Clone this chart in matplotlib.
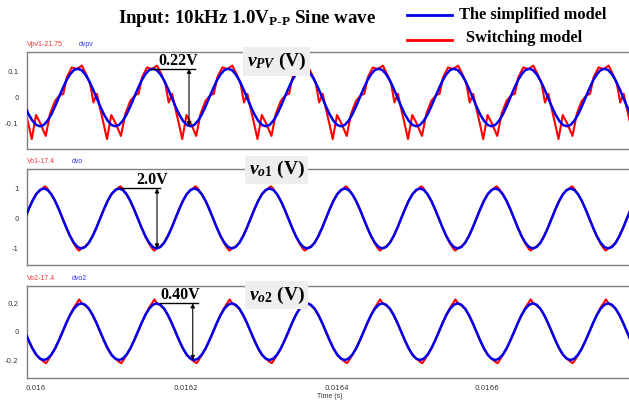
import numpy as np
import matplotlib.pyplot as plt
from matplotlib.lines import Line2D

plt.rcParams["mathtext.fontset"] = "custom"
plt.rcParams["mathtext.rm"] = "Liberation Serif:bold"
plt.rcParams["mathtext.it"] = "Liberation Serif:italic:bold"
plt.rcParams["mathtext.bf"] = "Liberation Serif:bold"

# one period of each trace, time in microseconds after T_START
PERIOD_US = 100.0
T_START = 0.016006
PERIODS = range(-1, 9)

SMOOTH_T = [0, 5, 10, 15, 20, 25, 30, 35, 40, 45, 50, 55, 60, 65, 70, 75, 80, 85, 90, 95]

VPV_SIMPLE = [-0.110, -0.105, -0.089, -0.065, -0.034, 0.000, 0.034, 0.065, 0.089, 0.105,
              0.110, 0.105, 0.089, 0.065, 0.034, 0.000, -0.034, -0.065, -0.089, -0.105]
VPV_SWITCH_T = [0, 7.6, 13.3, 20, 26.7, 31, 35.6, 42.3, 49, 55.6, 62.3, 66.7, 71, 75.6, 80, 84.5, 89, 94.7]
VPV_SWITCH = [-0.096, -0.147, -0.063, -0.013, 0.010, 0.014, 0.077, 0.115, 0.109, 0.122,
              0.083, 0.051, -0.019, 0.014, -0.044, -0.100, -0.159, -0.067]

VO1_SIMPLE = [0.951, 1.000, 0.951, 0.809, 0.588, 0.309, 0.000, -0.309, -0.588, -0.809,
              -0.951, -1.000, -0.951, -0.809, -0.588, -0.309, 0.000, 0.309, 0.588, 0.809]
VO1_SWITCH_T = [0, 5, 7, 10, 15, 20, 25, 30, 35, 40, 45, 50, 52, 55, 60, 65, 70, 75, 80, 85, 90, 95]
VO1_SWITCH = [0.93, 1.04, 1.07, 0.99, 0.80, 0.58, 0.30, 0.00, -0.31, -0.60, -0.84, -1.03, -1.07,
              -0.99, -0.93, -0.80, -0.57, -0.30, 0.02, 0.32, 0.60, 0.82]

VO2_SIMPLE = [-0.190, -0.200, -0.190, -0.162, -0.118, -0.062, 0.000, 0.062, 0.118, 0.162,
              0.190, 0.200, 0.190, 0.162, 0.118, 0.062, 0.000, -0.062, -0.118, -0.162]
VO2_SWITCH_T = [0, 5, 8, 10, 15, 20, 25, 30, 35, 40, 45, 50, 52, 55, 60, 65, 70, 75, 80, 85, 90, 95]
VO2_SWITCH = [-0.190, -0.212, -0.222, -0.207, -0.165, -0.120, -0.064, -0.005, 0.060, 0.120, 0.170,
              0.210, 0.228, 0.203, 0.185, 0.160, 0.115, 0.060, -0.002, -0.065, -0.120, -0.165]

XTICKS = [0.016, 0.0162, 0.0164, 0.0166]
XTICK_LABELS = ["0.016", "0.0162", "0.0164", "0.0166"]
XLIM = (0.0159887, 0.0167887)

PANELS = [
    dict(sw_t=VPV_SWITCH_T, sw=VPV_SWITCH, simple=VPV_SIMPLE,
         head=("Vpv1-21.75", "dvpv"), label=r"$v_{PV}$ (V)",
         ylim=(-0.197, 0.174), yticks=[-0.1, 0, 0.1], yticklabels=["-0.1", "0", "0.1"],
         rect=(0.0429, 0.6284, 0.9571, 0.2419), box_y=0.902,
         amp="0.22V", arrow_x=0.016204, line_x=(0.016152, 0.016212), text_x=0.016190),
    dict(sw_t=VO1_SWITCH_T, sw=VO1_SWITCH, simple=VO1_SIMPLE,
         head=("Vo1-17.4", "dvo"), label=r"$v_{\mathit{o1}}$ (V)",
         ylim=(-1.55, 1.64), yticks=[-1, 0, 1], yticklabels=["-1", "0", "1"],
         rect=(0.0429, 0.3392, 0.9571, 0.2387), box_y=0.993,
         amp="2.0V", arrow_x=0.0161615, line_x=(0.0161123, 0.0161654), text_x=0.016155),
    dict(sw_t=VO2_SWITCH_T, sw=VO2_SWITCH, simple=VO2_SIMPLE,
         head=("Vo2-17.4", "dvo2"), label=r"$v_{\mathit{o2}}$ (V)",
         ylim=(-0.3245, 0.3245), yticks=[-0.2, 0, 0.2], yticklabels=["-0.2", "0", "0.2"],
         rect=(0.0429, 0.0581, 0.9571, 0.2294), box_y=0.899,
         amp="0.40V", arrow_x=0.016209, line_x=(0.016165, 0.016216), text_x=0.016192),
]


def tile(tp, vals):
    tp = np.asarray(tp, dtype=float)
    t = np.concatenate([T_START + (k * PERIOD_US + tp) * 1e-6 for k in PERIODS])
    v = np.tile(np.asarray(vals, dtype=float), len(PERIODS))
    return t, v


fig = plt.figure(figsize=(6.29, 4.01), dpi=100)
sans = "Liberation Sans"
serif = "Liberation Serif"

for i, p in enumerate(PANELS):
    ax = fig.add_axes(p["rect"])
    t_sw, v_sw = tile(p["sw_t"], p["sw"])
    t_si, v_si = tile(SMOOTH_T, p["simple"])
    ax.plot(t_sw, v_sw, color="#ff0000", lw=1.5, zorder=2)
    ax.plot(t_si, v_si, color="#0000ee", lw=1.8, zorder=3)
    ax.set_xlim(*XLIM)
    ax.set_ylim(*p["ylim"])
    ax.set_yticks(p["yticks"])
    ax.set_yticklabels(p["yticklabels"])
    ax.set_xticks(XTICKS)
    if i == 2:
        ax.set_xticklabels(XTICK_LABELS)
    else:
        ax.set_xticklabels([])
    ax.tick_params(length=0, labelsize=5, labelcolor="#333333", pad=6)
    ax.tick_params(axis="x", pad=5)
    for side in ("left", "top", "bottom"):
        ax.spines[side].set_color("#808080")
        ax.spines[side].set_linewidth(1.0)
    ax.spines["right"].set_visible(False)

    # header above each panel
    ax.text(0.0, 1.04, p["head"][0], transform=ax.transAxes, fontsize=5,
            color="#ff3333", family=sans, ha="left", va="bottom")
    ax.text(0.086 if i == 0 else 0.075, 1.04, p["head"][1], transform=ax.transAxes,
            fontsize=5, color="#3333ff", family=sans, ha="left", va="bottom")

    # signal name in a grey box
    ax.text(0.415, p["box_y"], p["label"], transform=ax.transAxes, fontsize=14,
            family=serif, fontweight="bold", ha="center", va="center", zorder=10,
            clip_on=False,
            bbox=dict(boxstyle="square,pad=0.18", facecolor="#eeeeee", edgecolor="none"))

    # peak-to-peak marker
    top = max(p["simple"])
    bottom = min(p["simple"])
    ax.plot(p["line_x"], [top, top], color="black", lw=1.0, zorder=5)
    ax.annotate("", xy=(p["arrow_x"], bottom), xytext=(p["arrow_x"], top),
                arrowprops=dict(arrowstyle="<|-|>", color="black", lw=0.8,
                                mutation_scale=6, shrinkA=0, shrinkB=0), zorder=5)
    ax.text(p["text_x"], top, p["amp"], fontsize=11.5, family=serif, fontweight="bold",
            ha="center", va="bottom", zorder=6)

fig.text(317 / 629, 1 - 396 / 401, "Time (s)", fontsize=5, color="#333333",
         family=sans, ha="left", va="center")

fig.text(0.393, 0.955, r"Input: 10kHz 1.0V$_{\mathrm{P\text{-}P}}$ Sine wave", fontsize=13.6,
         family=serif, fontweight="bold", ha="center", va="center")

# legend drawn by hand
fig.add_artist(Line2D([0.647, 0.719], [0.9626, 0.9626], color="#0000ee", lw=2.0))
fig.add_artist(Line2D([0.647, 0.719], [0.900, 0.900], color="#ff0000", lw=2.0))
fig.text(0.730, 0.9626, "The simplified model", fontsize=11.8, family=serif,
         fontweight="bold", ha="left", va="center")
fig.text(0.741, 0.905, "Switching model", fontsize=11.8, family=serif,
         fontweight="bold", ha="left", va="center")

fig.savefig("out.png", dpi=100)
